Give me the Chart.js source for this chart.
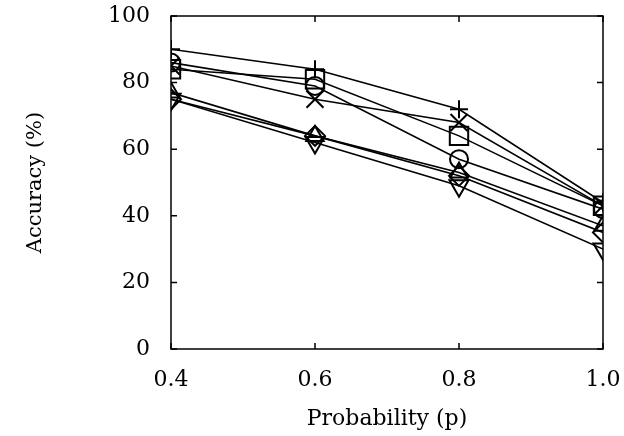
<!DOCTYPE html>
<html>
<head>
<meta charset="utf-8">
<script src="https://cdn.jsdelivr.net/npm/chart.js@4"></script>
<style>
  html, body { margin: 0; padding: 0; background: #fff; }
  #wrap { width: 624px; height: 436px; }
</style>
</head>
<body>
<div id="wrap"><canvas id="lineChart" width="624" height="436"></canvas></div>
<script>
// x values (probability p)
const probs = [0.4, 0.6, 0.8, 1.0]

// accuracy (%) per series
const plusVals = [90, 84, 72, 44]
const crossVals = [85, 75, 68, 43]
const squareVals = [84, 81, 64, 43]
const circleVals = [86, 79, 57, 42]
const triUpVals = [77, 64, 53, 37]
const diamondVals = [75, 64, 52, 35]
const triDownVals = [75, 62, 49, 30]

const yTicks = [0, 20, 40, 60, 80, 100]
const xTicks = [0.4, 0.6, 0.8, 1.0]

const serif = "'DejaVu Serif', 'Liberation Serif', serif"

function series(vals, style, radius, rotation) {
    return {
        data: vals.map((v, i) => ({ x: probs[i], y: v })),
        borderColor: '#000',
        backgroundColor: 'rgba(0,0,0,0)',
        borderWidth: 1.6,
        pointStyle: style,
        pointRadius: radius,
        pointRotation: rotation || 0,
        pointBorderColor: '#000',
        pointBackgroundColor: 'rgba(0,0,0,0)',
        pointBorderWidth: 2,
        tension: 0
    }
}

// frame + inward tick marks, like the original plot
const frame = {
    id: 'frame',
    afterDatasetsDraw(chart) {
        const ctx = chart.ctx, a = chart.chartArea
        const xs = chart.scales.x, ys = chart.scales.y
        ctx.save()
        ctx.strokeStyle = '#000'
        ctx.lineWidth = 1.5
        ctx.strokeRect(a.left, a.top, a.right - a.left, a.bottom - a.top)
        ctx.beginPath()
        yTicks.forEach(t => {
            const py = ys.getPixelForValue(t)
            ctx.moveTo(a.left, py); ctx.lineTo(a.left + 6, py)
            ctx.moveTo(a.right, py); ctx.lineTo(a.right - 6, py)
        })
        xTicks.forEach(t => {
            const px = xs.getPixelForValue(t)
            ctx.moveTo(px, a.bottom); ctx.lineTo(px, a.bottom - 6)
            ctx.moveTo(px, a.top); ctx.lineTo(px, a.top + 6)
        })
        ctx.stroke()
        ctx.restore()
    }
}

new Chart(document.getElementById('lineChart'), {
    type: 'line',
    data: {
        datasets: [
            series(plusVals, 'cross', 9),
            series(crossVals, 'crossRot', 12),
            series(squareVals, 'rect', 13),
            series(circleVals, 'circle', 9),
            series(triUpVals, 'triangle', 10),
            series(diamondVals, 'rectRot', 10),
            series(triDownVals, 'triangle', 11, 180)
        ]
    },
    options: {
        responsive: false,
        animation: false,
        layout: { padding: { top: 16, right: 21, left: 19, bottom: 0 } },
        plugins: {
            legend: { display: false },
            tooltip: { enabled: false }
        },
        scales: {
            x: {
                type: 'linear',
                min: 0.4,
                max: 1.0,
                afterBuildTicks: s => { s.ticks = xTicks.map(v => ({ value: v })) },
                afterFit: s => { s.height = 87; s.paddingLeft = 0; s.paddingRight = 0 },
                grid: { display: false, drawTicks: false },
                border: { display: false },
                ticks: {
                    color: '#000',
                    padding: 18,
                    font: { family: serif, size: 22 },
                    callback: v => v.toFixed(1)
                },
                title: {
                    display: true,
                    text: 'Probability (p)',
                    color: '#000',
                    font: { family: serif, size: 22 },
                    padding: { top: 6 }
                }
            },
            y: {
                min: 0,
                max: 100,
                afterBuildTicks: s => { s.ticks = yTicks.map(v => ({ value: v })) },
                afterFit: s => { s.width = 152; s.paddingTop = 0; s.paddingBottom = 0 },
                grid: { display: false, drawTicks: false },
                border: { display: false },
                ticks: {
                    color: '#000',
                    padding: 21,
                    font: { family: serif, size: 22 }
                },
                title: {
                    display: true,
                    text: 'Accuracy (%)',
                    color: '#000',
                    font: { family: serif, size: 21 },
                    padding: { bottom: 0 }
                }
            }
        }
    },
    plugins: [frame]
});
</script>
</body>
</html>
